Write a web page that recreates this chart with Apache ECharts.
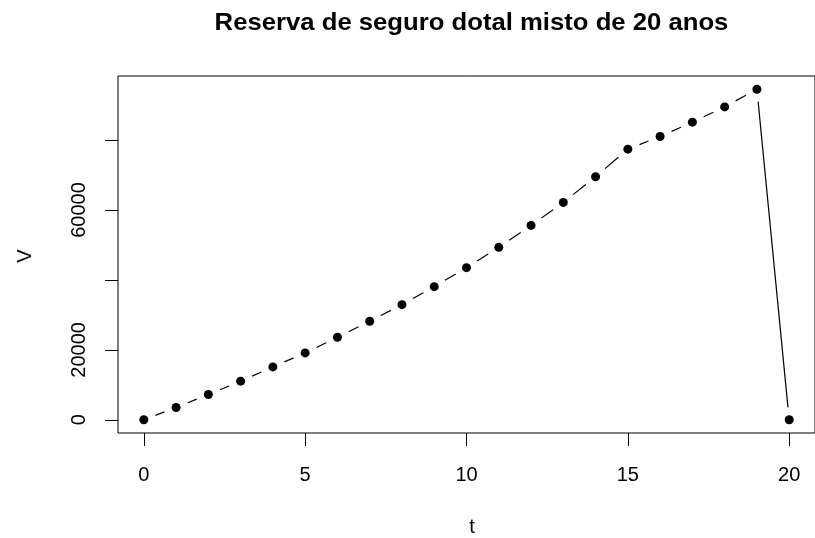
<!DOCTYPE html>
<html>
<head>
<meta charset="utf-8">
<script src="https://cdn.jsdelivr.net/npm/echarts@6/dist/echarts.min.js"></script>
<style>
html,body{margin:0;padding:0;background:#fff;}
#chart{width:815px;height:538px;}
</style>
</head>
<body>
<div id="chart"></div>
<script>
// ---- data ----
var t = [0,1,2,3,4,5,6,7,8,9,10,11,12,13,14,15,16,17,18,19,20];
var V = [0,3520,7230,11040,15130,19130,23600,28180,32940,38090,43510,49320,55610,62180,69510,77420,81040,85130,89510,94560,0];
var xTicks = [0,5,10,15,20];
var yTicks = [0,20000,40000,60000,80000];
var yTickLabels = [0,20000,60000];
var titleText = 'Reserva de seguro dotal misto de 20 anos';
var xName = 't';
var yName = 'V';

// ---- derived (R-style 4% axis padding) ----
function range(a){ return [Math.min.apply(null,a), Math.max.apply(null,a)]; }
var xr = range(t), yr = range(V);
var xPad = 0.04*(xr[1]-xr[0]), yPad = 0.04*(yr[1]-yr[0]);

var points = t.map(function(v,i){ return [v, V[i]]; });
var segs = [];
for (var i=0;i<t.length-1;i++) segs.push([t[i],V[i],t[i+1],V[i+1]]);

var FONT = '"Liberation Sans", Arial, Helvetica, sans-serif';
var GAP = 12.5;

var chart = echarts.init(document.getElementById('chart'), null, {renderer:'canvas'});
chart.setOption({
  backgroundColor:'#fff',
  animation:false,
  grid:{left:118, top:76, width:706, height:357, show:true, borderColor:'#000', borderWidth:1, backgroundColor:'transparent', containLabel:false},
  xAxis:{
    type:'value', min:xr[0]-xPad, max:xr[1]+xPad,
    axisLine:{show:false, onZero:false}, splitLine:{show:false},
    axisTick:{show:true, inside:false, length:13, customValues:xTicks, lineStyle:{color:'#000', width:1}},
    axisLabel:{show:true, customValues:xTicks, margin:32, color:'#000', fontSize:20, fontFamily:FONT,
               formatter:function(v){ return String(v); }}
  },
  yAxis:{
    type:'value', min:yr[0]-yPad, max:yr[1]+yPad,
    axisLine:{show:false, onZero:false}, splitLine:{show:false},
    axisTick:{show:true, inside:false, length:13, customValues:yTicks, lineStyle:{color:'#000', width:1}},
    axisLabel:{show:true, customValues:yTickLabels, rotate:90, margin:29, color:'#000', fontSize:20, fontFamily:FONT,
               formatter:function(v){ return String(v); }}
  },
  graphic:[
    {type:'text', x:471.5, y:23, style:{text:titleText, font:'bold 24px '+FONT, fill:'#000', align:'center', verticalAlign:'middle'}, scaleX:1.07},
    {type:'text', x:472, y:527, style:{text:xName, font:'20px '+FONT, fill:'#000', align:'center', verticalAlign:'middle'}},
    {type:'text', x:25, y:256, rotation:Math.PI/2, style:{text:yName, font:'20px '+FONT, fill:'#000', align:'center', verticalAlign:'middle'}}
  ],
  series:[
    {
      type:'custom',
      data:segs,
      encode:{x:[0,2], y:[1,3]},
      renderItem:function(params, api){
        var p1 = api.coord([api.value(0), api.value(1)]);
        var p2 = api.coord([api.value(2), api.value(3)]);
        var dx = p2[0]-p1[0], dy = p2[1]-p1[1];
        var L = Math.sqrt(dx*dx+dy*dy);
        if (L <= 2*GAP) return null;
        var ux = dx/L, uy = dy/L;
        return {type:'line', shape:{x1:p1[0]+ux*GAP, y1:p1[1]+uy*GAP, x2:p2[0]-ux*GAP, y2:p2[1]-uy*GAP},
                style:{stroke:'#000', lineWidth:1.2}};
      },
      z:2
    },
    {
      type:'scatter', data:points, symbol:'circle', symbolSize:9,
      itemStyle:{color:'#000', opacity:1}, z:3
    }
  ]
});
</script>
</body>
</html>
